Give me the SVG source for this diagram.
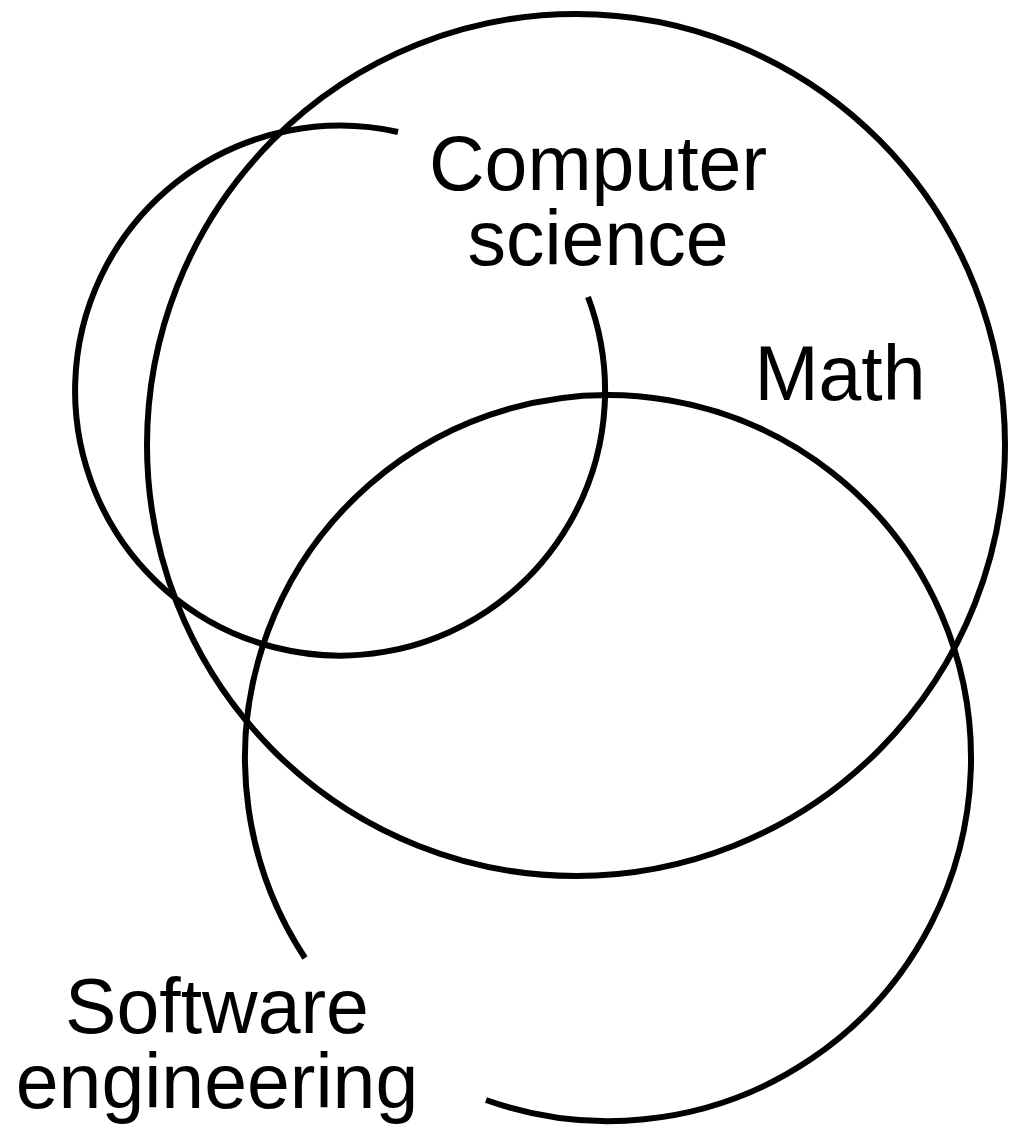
<svg xmlns="http://www.w3.org/2000/svg" width="1014" height="1125" viewBox="0 0 1014 1125">
<style>
.c{fill:none;stroke:#000;stroke-width:6}
.t{font-family:"Liberation Sans",Arial,sans-serif;font-size:77px;fill:#000;text-anchor:middle}
</style>
<rect width="1014" height="1125" fill="#fff"/>
<g id="math">
<ellipse class="c" cx="576" cy="445" rx="429" ry="431"/>
<text class="t" x="840" y="400">Math</text>
</g>
<g id="cs">
<path class="c" d="M588,297 A265,265 0 1 1 398,132"/>
<text class="t" x="598" y="190">Computer</text>
<text class="t" x="598" y="265">science</text>
</g>
<g id="se">
<path class="c" d="M305,958 A363,363 0 1 1 486,1100"/>
<text class="t" x="217" y="1033">Software</text>
<text class="t" x="217" y="1108">engineering</text>
</g>
<g id="connectors"/>
</svg>
